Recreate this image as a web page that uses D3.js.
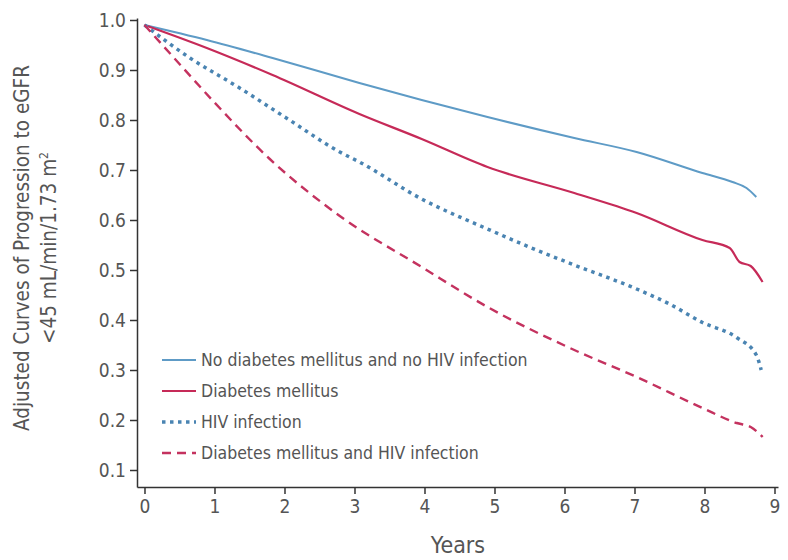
<!DOCTYPE html>
<html>
<head>
<meta charset="utf-8">
<script src="https://cdn.jsdelivr.net/npm/d3@7"></script>
<style>
  body { margin: 0; background: #fff; }
  text { font-family: "Liberation Sans Narrow", "DejaVu Sans Condensed", sans-serif; fill: #555; }
</style>
</head>
<body>
<svg id="chart"></svg>
<script>
// values: [years, adjusted curve]
var noDmNoHiv = [[0,0.99],[0.89,0.96],[1.83,0.924],[3.07,0.874],[3.96,0.84],[4.9,0.806],
                 [6.14,0.764],[7.03,0.736],[7.97,0.694],[8.4,0.676],[8.6,0.664],[8.74,0.646]]
var dm = [[0,0.99],[0.89,0.944],[1.83,0.89],[3.07,0.812],[3.96,0.762],[4.9,0.706],[6.14,0.654],
          [7.03,0.614],[7.97,0.56],[8.36,0.544],[8.5,0.516],[8.66,0.508],[8.83,0.476]]
var hiv = [[0,0.99],[0.65,0.924],[1.36,0.864],[2.07,0.8],[2.79,0.736],[3.07,0.716],[3.96,0.642],
           [4.9,0.582],[5.6,0.54],[6.14,0.51],[7.03,0.462],[7.5,0.432],[7.97,0.395],[8.46,0.365],
           [8.74,0.33],[8.81,0.3]]
var dmHiv = [[0,0.99],[0.5,0.912],[1,0.835],[1.79,0.722],[2.79,0.608],[3.96,0.506],
             [4.9,0.426],[6.14,0.34],[7.03,0.286],[7.97,0.224],[8.46,0.194],[8.66,0.186],[8.83,0.166]]

var seriesNames = ["No diabetes mellitus and no HIV infection", "Diabetes mellitus",
                   "HIV infection", "Diabetes mellitus and HIV infection"]
var xTicks = [0,1,2,3,4,5,6,7,8,9]
var yTicks = [0.1,0.2,0.3,0.4,0.5,0.6,0.7,0.8,0.9,1.0]

var styles = [
    {color: "#5e9bc6", width: 2, dash: null},
    {color: "#c62a58", width: 2.2, dash: null},
    {color: "#4a84b2", width: 3.5, dash: "3.5,4.5"},
    {color: "#c4325f", width: 2.4, dash: "9,6"}
]
var allSeries = [noDmNoHiv, dm, hiv, dmHiv]

var width = 788, height = 560

var svg = d3.select("#chart")
    .attr("width", width)
    .attr("height", height)

var x = d3.scaleLinear().domain([-0.107, 9.05]).range([137, 778])
var y = d3.scaleLinear().domain([0.066, 1.004]).range([487, 18])

// axes
var xAxis = svg.append("g")
    .attr("transform", "translate(0,487)")
    .call(d3.axisBottom(x).tickValues(xTicks).tickSize(7).tickSizeOuter(0).tickPadding(5)
          .tickFormat(d3.format("d")))

var yAxis = svg.append("g")
    .attr("transform", "translate(137,0)")
    .call(d3.axisLeft(y).tickValues(yTicks).tickSize(7).tickSizeOuter(0).tickPadding(4)
          .tickFormat(d3.format(".1f")))

svg.selectAll(".domain, .tick line")
    .attr("stroke", "#333")
    .attr("stroke-width", 1.5)

xAxis.selectAll("text").style("font-size", "19px").attr("dy", "0.75em")
yAxis.selectAll("text").style("font-size", "19px")

// axis titles
svg.append("text")
    .attr("x", 458).attr("y", 553)
    .attr("text-anchor", "middle")
    .style("font-size", "23px")
    .text("Years")

var yTitle = svg.append("text")
    .attr("transform", "translate(0,248) rotate(-90)")
    .attr("text-anchor", "middle")
    .style("font-size", "20.5px")
yTitle.append("tspan").attr("x", 0).attr("y", 29).text("Adjusted Curves of Progression to eGFR")
yTitle.append("tspan").attr("x", 0).attr("y", 56).text("<45 mL/min/1.73 m")
yTitle.append("tspan").attr("dy", -8).style("font-size", "12px").text("2")

// curves
var line = d3.line()
    .x(function(d){ return x(d[0]) })
    .y(function(d){ return y(d[1]) })
    .curve(d3.curveMonotoneX)

svg.append("g").selectAll("path")
    .data(allSeries)
    .enter()
    .append("path")
    .attr("d", line)
    .attr("fill", "none")
    .attr("stroke", function(d, i){ return styles[i].color })
    .attr("stroke-width", function(d, i){ return styles[i].width })
    .attr("stroke-dasharray", function(d, i){ return styles[i].dash })

// legend
var legend = svg.append("g")
var rows = legend.selectAll("g")
    .data(seriesNames)
    .enter()
    .append("g")
    .attr("transform", function(d, i){ return "translate(162," + (360 + i * 31) + ")" })

rows.append("line")
    .attr("x1", 0).attr("x2", 34)
    .attr("stroke", function(d, i){ return styles[i].color })
    .attr("stroke-width", function(d, i){ return styles[i].width })
    .attr("stroke-dasharray", function(d, i){ return styles[i].dash })

rows.append("text")
    .attr("x", 39).attr("dy", "0.35em")
    .style("font-size", "17.5px")
    .text(function(d){ return d })
</script>
</body>
</html>
